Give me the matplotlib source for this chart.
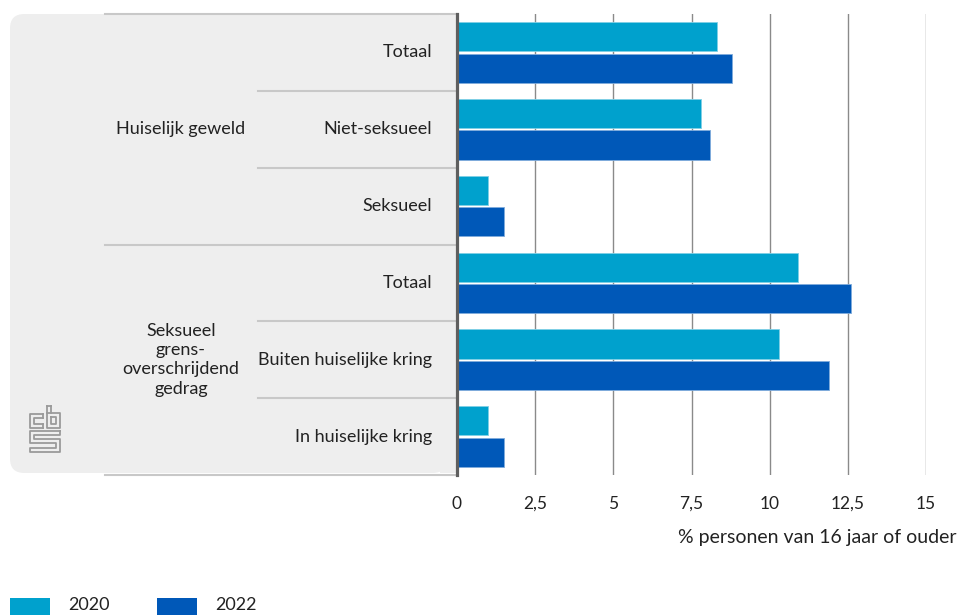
import matplotlib
matplotlib.use("Agg")
import matplotlib.pyplot as plt
from matplotlib.patches import FancyBboxPatch, Rectangle
from matplotlib.lines import Line2D
from matplotlib.transforms import blended_transform_factory
import numpy as np

# ---- data ----
groups = ["Huiselijk geweld", "Seksueel\ngrens-\noverschrijdend\ngedrag"]
categories = ["Totaal", "Niet-seksueel", "Seksueel",
              "Totaal", "Buiten huiselijke kring", "In huiselijke kring"]
group_of = [0, 0, 0, 1, 1, 1]
series_names = ["2020", "2022"]
values_2020 = [8.3, 7.8, 1.0, 10.9, 10.3, 1.0]
values_2022 = [8.8, 8.1, 1.5, 12.6, 11.9, 1.5]
xticks = [0, 2.5, 5, 7.5, 10, 12.5, 15]
xtick_labels = ["0", "2,5", "5", "7,5", "10", "12,5", "15"]
xlabel = "% personen van 16 jaar of ouder"

C2020 = "#00a1cd"
C2022 = "#0058b8"

plt.rcParams['font.family'] = ['Lato', 'DejaVu Sans']

W, H = 959, 615
fig = plt.figure(figsize=(W / 100, H / 100), dpi=100)

def fx(px): return px / W
def fy(py): return 1 - py / H

ax_left, ax_right, ax_top, ax_bot = 457, 926, 14, 475
ax = fig.add_axes([fx(ax_left), fy(ax_bot), fx(ax_right - ax_left), (ax_bot - ax_top) / H])
ax.set_zorder(1)

# background panel for the labels
bg = FancyBboxPatch((fx(10), fy(473)), fx(447 - 10), (473 - 14) / H,
                    boxstyle="round,pad=0,rounding_size=0.015",
                    transform=fig.transFigure, facecolor="#eeeeee",
                    edgecolor="none", zorder=-5, mutation_aspect=W / H)
fig.patches.append(bg)
fig.patches.append(Rectangle((fx(440), fy(473)), fx(457 - 440), (473 - 14) / H,
                             transform=fig.transFigure, facecolor="#eeeeee",
                             edgecolor="none", zorder=-5))

y = np.arange(len(categories))
h = 0.38
off = 0.205
ax.barh(y - off, values_2020, height=h, color=C2020, edgecolor="#7fd0e6", linewidth=0.6, zorder=3)
ax.barh(y + off, values_2022, height=h, color=C2022, edgecolor="#7fabdb", linewidth=0.6, zorder=3)

ax.set_xlim(0, 15)
ax.set_ylim(len(categories) - 0.5, -0.5)
ax.set_xticks(xticks)
ax.set_xticklabels(xtick_labels)
ax.set_yticks([])
for t in xticks[1:]:
    ax.axvline(t, color="#8a8a8a", lw=1.0, zorder=1)
for s in ["top", "right", "bottom"]:
    ax.spines[s].set_visible(False)
ax.spines["left"].set_color("#5f5f5f")
ax.spines["left"].set_linewidth(2.3)
ax.spines["left"].set_zorder(4)
ax.tick_params(axis="x", length=0, pad=15, labelsize=12.5, labelcolor="#222222")
ax.patch.set_alpha(0)

# separators and labels in the left panel
tr = blended_transform_factory(fig.transFigure, ax.transData)
sep_color = "#c8c8c8"
bounds = np.arange(len(categories) + 1) - 0.5
for i, b in enumerate(bounds):
    if i == 0 or i == len(categories) or (i < len(categories) and group_of[i] != group_of[i - 1]):
        x0 = fx(105)
    else:
        x0 = fx(258)
    ax.add_line(Line2D([x0, fx(455)], [b, b], transform=tr, color=sep_color, lw=1.5,
                       clip_on=False, zorder=2))

for i, c in enumerate(categories):
    ax.text(fx(432), i, c, transform=tr, ha="right", va="center", fontsize=13,
            color="#222222", clip_on=False)

for g, name in enumerate(groups):
    idx = [i for i, gg in enumerate(group_of) if gg == g]
    yc = np.mean(idx)
    ax.text(fx(181), yc, name, transform=tr, ha="center", va="center", fontsize=13,
            color="#222222", linespacing=1.25, clip_on=False)

# axis label
fig.text(fx(957), fy(537), xlabel, ha="right", va="center", fontsize=14, color="#222222")

# legend
for k, (name, col) in enumerate(zip(series_names, [C2020, C2022])):
    x0 = 10 + k * 147
    fig.patches.append(Rectangle((fx(x0), fy(615)), fx(40), 17 / H,
                                 transform=fig.transFigure, facecolor=col, edgecolor="none"))
    fig.text(fx(x0 + 58), fy(605), name, ha="left", va="center", fontsize=13, color="#222222")

# cbs logo (decoration)
lc = "#9a9a9a"
def pl(xs, ys):
    fig.add_artist(Line2D([fx(v) for v in xs], [fy(v) for v in ys], color=lc, lw=1.3,
                          transform=fig.transFigure))
# c
pl([43, 30, 30, 43], [414, 414, 428, 428])
pl([43, 34, 34, 43], [418, 418, 424, 424])
pl([43, 43], [414, 418]); pl([43, 43], [424, 428])
# b
pl([47, 47, 60, 60, 47], [406, 428, 428, 413, 413])
pl([51, 51], [406, 413]); pl([47, 51], [406, 406])
pl([51, 56, 56, 51, 51], [417, 417, 424, 424, 417])
# s
pl([60, 30, 30, 56, 56, 30, 30, 60, 60, 34, 34, 60, 60], [431, 431, 443, 443, 448, 448, 452, 452, 439, 439, 435, 435, 431])

fig.savefig("out.png", dpi=100)
